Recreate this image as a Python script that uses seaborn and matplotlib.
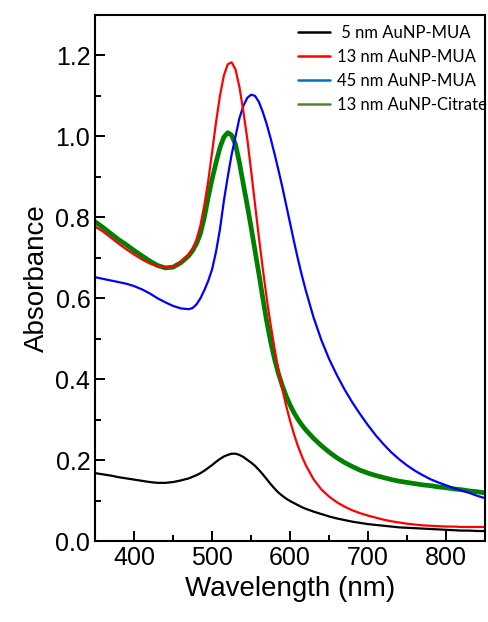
import numpy as np
import pandas as pd
import matplotlib
matplotlib.use('Agg')
import matplotlib.pyplot as plt
import seaborn as sns
from matplotlib.lines import Line2D
from matplotlib.ticker import MultipleLocator, FormatStrFormatter

# Wavelength grid (nm) and absorbance values
wavelength = ([350, 360, 370, 380, 390, 400, 410, 420, 430, 440, 450, 460]
              + list(range(470, 621, 5))
              + list(range(630, 851, 10)))

au5_mua = [0.168, 0.165, 0.162, 0.158, 0.155, 0.152, 0.149, 0.146, 0.144, 0.144, 0.146, 0.150,
           0.155, 0.159, 0.163, 0.168, 0.174, 0.181, 0.188, 0.196, 0.203, 0.209, 0.213, 0.216,
           0.216, 0.213, 0.208, 0.201, 0.194, 0.186, 0.176, 0.165, 0.153, 0.141, 0.130, 0.120,
           0.112, 0.105, 0.099, 0.094, 0.089, 0.084, 0.080,
           0.073, 0.067, 0.061, 0.056, 0.052, 0.048, 0.045, 0.042, 0.040, 0.038, 0.036, 0.034,
           0.033, 0.032, 0.031, 0.030, 0.029, 0.028, 0.027, 0.026, 0.026, 0.025, 0.025]

au13_mua = [0.777, 0.765, 0.750, 0.735, 0.721, 0.708, 0.696, 0.686, 0.679, 0.676, 0.678, 0.690,
            0.708, 0.722, 0.745, 0.780, 0.830, 0.890, 0.962, 1.035, 1.100, 1.150, 1.178, 1.183,
            1.165, 1.122, 1.062, 0.995, 0.915, 0.832, 0.750, 0.672, 0.600, 0.535, 0.476, 0.423,
            0.376, 0.334, 0.297, 0.264, 0.235, 0.210, 0.188,
            0.153, 0.128, 0.110, 0.096, 0.085, 0.076, 0.069, 0.063, 0.058, 0.053, 0.049, 0.046,
            0.043, 0.041, 0.039, 0.038, 0.037, 0.036, 0.036, 0.035, 0.035, 0.035, 0.035]

au45_mua = [0.652, 0.648, 0.644, 0.640, 0.636, 0.630, 0.622, 0.612, 0.600, 0.590, 0.581, 0.575,
            0.573, 0.576, 0.585, 0.600, 0.620, 0.643, 0.672, 0.715, 0.770, 0.840, 0.900, 0.955,
            1.000, 1.045, 1.075, 1.095, 1.103, 1.100, 1.085, 1.060, 1.030, 0.995, 0.957, 0.917,
            0.875, 0.830, 0.785, 0.740, 0.697, 0.657, 0.620,
            0.553, 0.497, 0.450, 0.410, 0.374, 0.342, 0.313, 0.286, 0.261, 0.239, 0.219, 0.202,
            0.187, 0.174, 0.163, 0.153, 0.145, 0.138, 0.131, 0.125, 0.119, 0.112, 0.106]

au13_citrate = [0.789, 0.775, 0.760, 0.745, 0.732, 0.718, 0.705, 0.692, 0.681, 0.675, 0.677, 0.688,
                0.705, 0.718, 0.735, 0.760, 0.800, 0.850, 0.895, 0.935, 0.972, 0.998, 1.009, 1.003,
                0.980, 0.935, 0.882, 0.830, 0.775, 0.717, 0.660, 0.600, 0.543, 0.493, 0.450, 0.414,
                0.384, 0.358, 0.336, 0.317, 0.301, 0.287, 0.275,
                0.254, 0.236, 0.220, 0.206, 0.194, 0.184, 0.175, 0.168, 0.162, 0.157, 0.152, 0.148,
                0.145, 0.142, 0.139, 0.137, 0.134, 0.132, 0.129, 0.127, 0.124, 0.122, 0.119]

legend_labels = [' 5 nm AuNP-MUA', '13 nm AuNP-MUA', '45 nm AuNP-MUA', '13 nm AuNP-Citrate']

sns.set_style('ticks')
plt.rcParams['font.family'] = ['Liberation Sans', 'DejaVu Sans']
plt.rcParams['text.color'] = 'black'
plt.rcParams['axes.labelcolor'] = 'black'
plt.rcParams['xtick.color'] = 'black'
plt.rcParams['ytick.color'] = 'black'

fig = plt.figure(figsize=(4.88, 6.22), dpi=100)
ax = fig.add_axes([0.195, 0.13, 0.799, 0.846])

# thick green first, others on top
sns.lineplot(x=wavelength, y=au13_citrate, color='#008000', lw=3.4, ax=ax)
sns.lineplot(x=wavelength, y=au5_mua, color='black', lw=1.6, ax=ax)
sns.lineplot(x=wavelength, y=au45_mua, color='#0000FF', lw=1.6, ax=ax)
sns.lineplot(x=wavelength, y=au13_mua, color='#FF0000', lw=1.6, ax=ax)

ax.set_xlim(350, 850)
ax.set_ylim(0, 1.3)
ax.xaxis.set_minor_locator(MultipleLocator(50))
ax.yaxis.set_minor_locator(MultipleLocator(0.1))
ax.set_xticks([400, 500, 600, 700, 800])
ax.set_yticks([0.0, 0.2, 0.4, 0.6, 0.8, 1.0, 1.2])
ax.yaxis.set_major_formatter(FormatStrFormatter('%.1f'))

ax.tick_params(which='major', direction='in', length=7, width=1.4,
               labelsize=18, top=False, right=False)
ax.tick_params(which='minor', direction='in', length=4.5, width=1.4,
               top=False, right=False)
for s in ax.spines.values():
    s.set_linewidth(1.5)
    s.set_color('black')

ax.set_xlabel('Wavelength (nm)', fontsize=20, labelpad=4)
ax.set_ylabel('Absorbance', fontsize=20, labelpad=4)

# legend was drawn with different colours than the curves in the original
handles = [Line2D([], [], color='black', lw=1.8),
           Line2D([], [], color='#FF0000', lw=1.8),
           Line2D([], [], color='#0070C0', lw=1.8),
           Line2D([], [], color='#548235', lw=1.8)]
ax.legend(handles, legend_labels, loc='upper left',
          bbox_to_anchor=(298 / 488, 1 - 25 / 622), bbox_transform=fig.transFigure,
          frameon=False, handlelength=1.9, handletextpad=0.45, labelspacing=0.48,
          borderpad=0, borderaxespad=0,
          prop={'family': ['Lato', 'DejaVu Sans'], 'size': 12})

fig.savefig('out.png', dpi=100)
